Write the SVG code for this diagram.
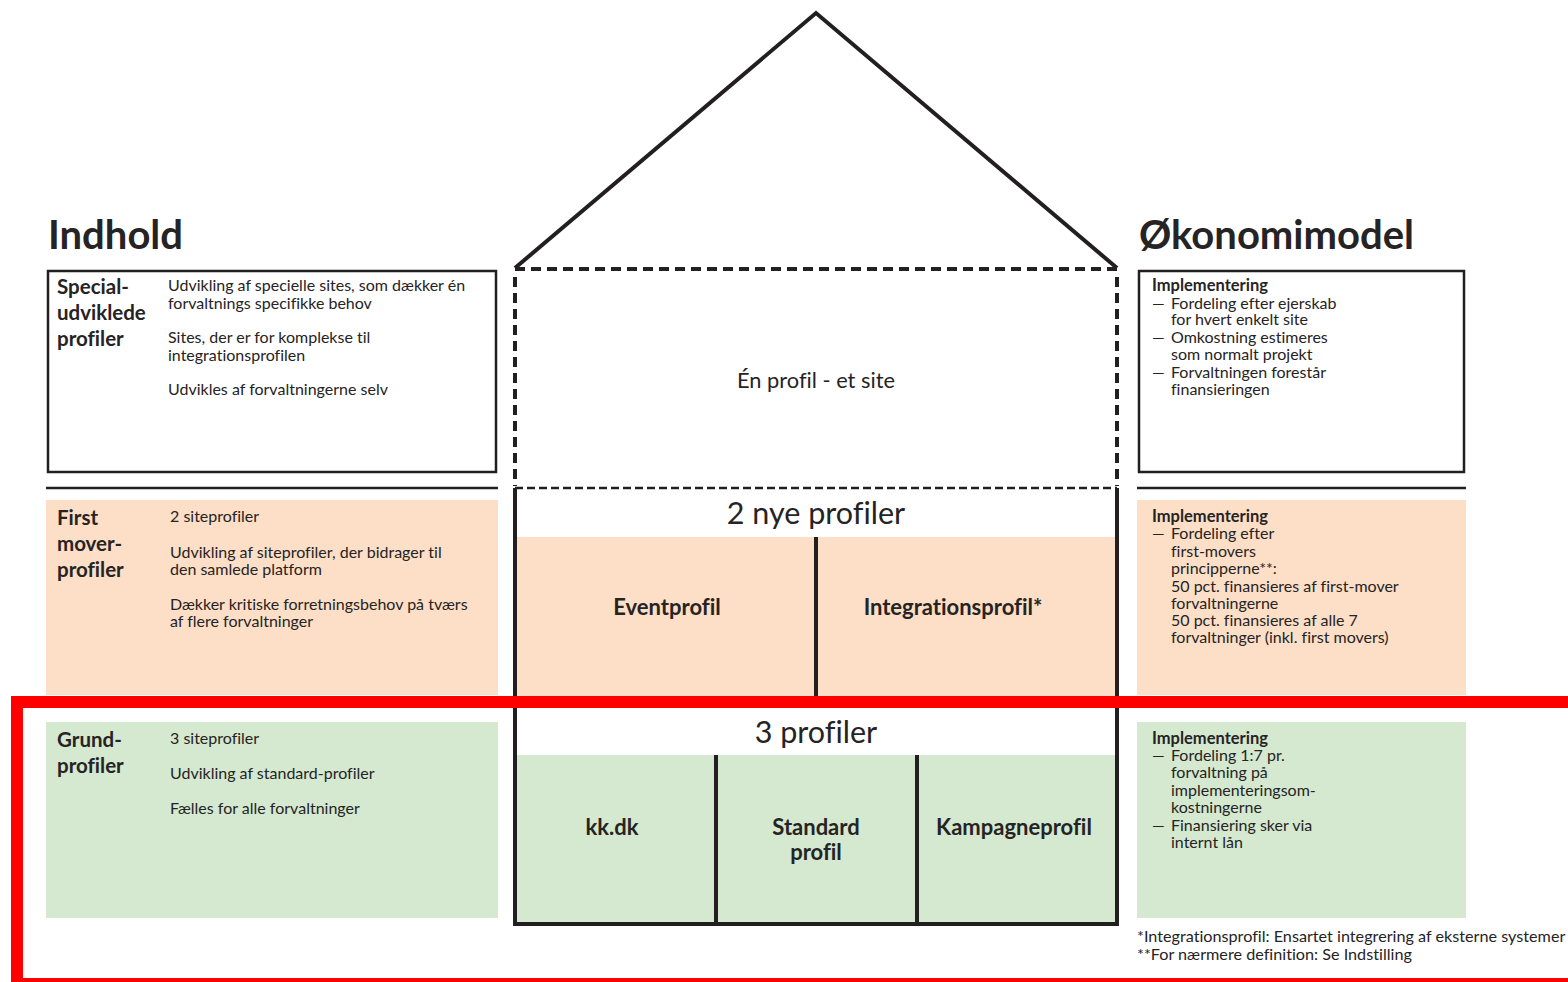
<svg xmlns="http://www.w3.org/2000/svg" width="1568" height="982" viewBox="0 0 1568 982">
<style>
text{font-family:Lato,"Open Sans","Liberation Sans",sans-serif;fill:#262324;font-variant-ligatures:none}
.h{font-size:40px;font-weight:700}
.lb{font-size:20.5px;font-weight:700}
.t{font-size:16px}
.f{font-size:16.2px}
.ib{font-size:16.5px;font-weight:700}
.c{text-anchor:middle}
.big{font-size:30.5px}
.cb{font-size:22px;font-weight:700;text-anchor:middle}
.box{fill:#fff;stroke:#231f20;stroke-width:2.5}
.peach{fill:#fcdfc6}
.green{fill:#d4e9cf}
.sep{stroke:#231f20;stroke-width:2.5}
.wall{stroke:#231f20;stroke-width:4;fill:none}
.dash{stroke:#231f20;stroke-width:4;stroke-dasharray:10 6;fill:none}
</style>
<rect width="1568" height="982" fill="#fff"/>

<g id="headings">
<text class="h" x="48" y="249">Indhold</text>
<text class="h" x="1139" y="249">Økonomimodel</text>
</g>

<g id="special-profiler">
<rect class="box" x="48" y="271" width="448" height="201"/>
<text class="lb" x="57" y="294">Special-</text>
<text class="lb" x="57" y="320">udviklede</text>
<text class="lb" x="57" y="346">profiler</text>
<text class="t" x="168" y="291">Udvikling af specielle sites, som dækker én</text>
<text class="t" x="168" y="309">forvaltnings specifikke behov</text>
<text class="t" x="168" y="343">Sites, der er for komplekse til</text>
<text class="t" x="168" y="361">integrationsprofilen</text>
<text class="t" x="168" y="395">Udvikles af forvaltningerne selv</text>
</g>

<g id="first-mover-profiler">
<line class="sep" x1="46" y1="488" x2="498" y2="488"/>
<rect class="peach" x="46" y="500" width="452" height="195"/>
<text class="lb" x="57" y="525">First</text>
<text class="lb" x="57" y="551">mover-</text>
<text class="lb" x="57" y="577">profiler</text>
<text class="t" x="170" y="522">2 siteprofiler</text>
<text class="t" x="170" y="558">Udvikling af siteprofiler, der bidrager til</text>
<text class="t" x="170" y="575">den samlede platform</text>
<text class="t" x="170" y="610">Dækker kritiske forretningsbehov på tværs</text>
<text class="t" x="170" y="627">af flere forvaltninger</text>
</g>

<g id="grundprofiler">
<rect class="green" x="46" y="722" width="452" height="196"/>
<text class="lb" x="57" y="747">Grund-</text>
<text class="lb" x="57" y="773">profiler</text>
<text class="t" x="170" y="744">3 siteprofiler</text>
<text class="t" x="170" y="779">Udvikling af standard-profiler</text>
<text class="t" x="170" y="814">Fælles for alle forvaltninger</text>
</g>

<g id="oekonomi-special">
<rect class="box" x="1139" y="271" width="325" height="201"/>
<text class="ib" x="1152" y="291">Implementering</text>
<text class="t" x="1152" y="309">—</text><text class="t" x="1171" y="309">Fordeling efter ejerskab</text>
<text class="t" x="1171" y="325">for hvert enkelt site</text>
<text class="t" x="1152" y="343">—</text><text class="t" x="1171" y="343">Omkostning estimeres</text>
<text class="t" x="1171" y="360">som normalt projekt</text>
<text class="t" x="1152" y="378">—</text><text class="t" x="1171" y="378">Forvaltningen forestår</text>
<text class="t" x="1171" y="395">finansieringen</text>
</g>

<g id="oekonomi-first-mover">
<line class="sep" x1="1137" y1="488" x2="1466" y2="488"/>
<rect class="peach" x="1137" y="500" width="329" height="195"/>
<text class="ib" x="1152" y="522">Implementering</text>
<text class="t" x="1152" y="539">—</text><text class="t" x="1171" y="539">Fordeling efter</text>
<text class="t" x="1171" y="557">first-movers</text>
<text class="t" x="1171" y="574">principperne**:</text>
<text class="t" x="1171" y="592">50 pct. finansieres af first-mover</text>
<text class="t" x="1171" y="609">forvaltningerne</text>
<text class="t" x="1171" y="626">50 pct. finansieres af alle 7</text>
<text class="t" x="1171" y="643">forvaltninger (inkl. first movers)</text>
</g>

<g id="oekonomi-grund">
<rect class="green" x="1137" y="722" width="329" height="196"/>
<text class="ib" x="1152" y="744">Implementering</text>
<text class="t" x="1152" y="761">—</text><text class="t" x="1171" y="761">Fordeling 1:7 pr.</text>
<text class="t" x="1171" y="778">forvaltning på</text>
<text class="t" x="1171" y="796">implementeringsom-</text>
<text class="t" x="1171" y="813">kostningerne</text>
<text class="t" x="1152" y="831">—</text><text class="t" x="1171" y="831">Finansiering sker via</text>
<text class="t" x="1171" y="848">internt lån</text>
</g>

<g id="house-roof">
<polyline class="wall" stroke-width="3.5" points="515,268 816,13 1117,268"/>
<line class="dash" x1="515" y1="269" x2="1117" y2="269"/>
<line class="dash" x1="515" y1="277" x2="515" y2="486"/>
<line class="dash" x1="1117" y1="277" x2="1117" y2="486"/>
<text class="c" x="816" y="388" style="font-size:21.8px">Én profil - et site</text>
</g>

<g id="house-first-mover">
<rect class="peach" x="517" y="537" width="598" height="160"/>
<line x1="515" y1="488" x2="1117" y2="488" stroke="#231f20" stroke-width="2.5" stroke-dasharray="8 4"/>
<line class="wall" x1="515" y1="488" x2="515" y2="697"/>
<line class="wall" x1="1117" y1="488" x2="1117" y2="697"/>
<line class="wall" x1="816" y1="537" x2="816" y2="697"/>
<text class="c big" x="816" y="524">2 nye profiler</text>
<text class="cb" x="667" y="615">Eventprofil</text>
<text class="cb" x="953" y="615">Integrationsprofil*</text>
</g>

<g id="house-grund">
<rect class="green" x="517" y="755" width="598" height="168"/>
<line class="wall" x1="515" y1="697" x2="515" y2="926"/>
<line class="wall" x1="1117" y1="697" x2="1117" y2="926"/>
<line class="wall" x1="513" y1="924" x2="1119" y2="924"/>
<line class="wall" x1="716" y1="755" x2="716" y2="924"/>
<line class="wall" x1="917" y1="755" x2="917" y2="924"/>
<text class="c big" x="816" y="743">3 profiler</text>
<text class="cb" x="612" y="835">kk.dk</text>
<text class="cb" x="816" y="835">Standard</text>
<text class="cb" x="816" y="860">profil</text>
<text class="cb" x="1014" y="835">Kampagneprofil</text>
</g>

<g id="footnotes">
<text class="f" x="1137" y="942">*Integrationsprofil: Ensartet integrering af eksterne systemer</text>
<text class="f" x="1137" y="960">**For nærmere definition: Se Indstilling</text>
</g>

<g id="connectors"></g>

<g id="highlight">
<rect x="17" y="702" width="1600" height="282" fill="none" stroke="#ff0000" stroke-width="12"/>
</g>
</svg>
